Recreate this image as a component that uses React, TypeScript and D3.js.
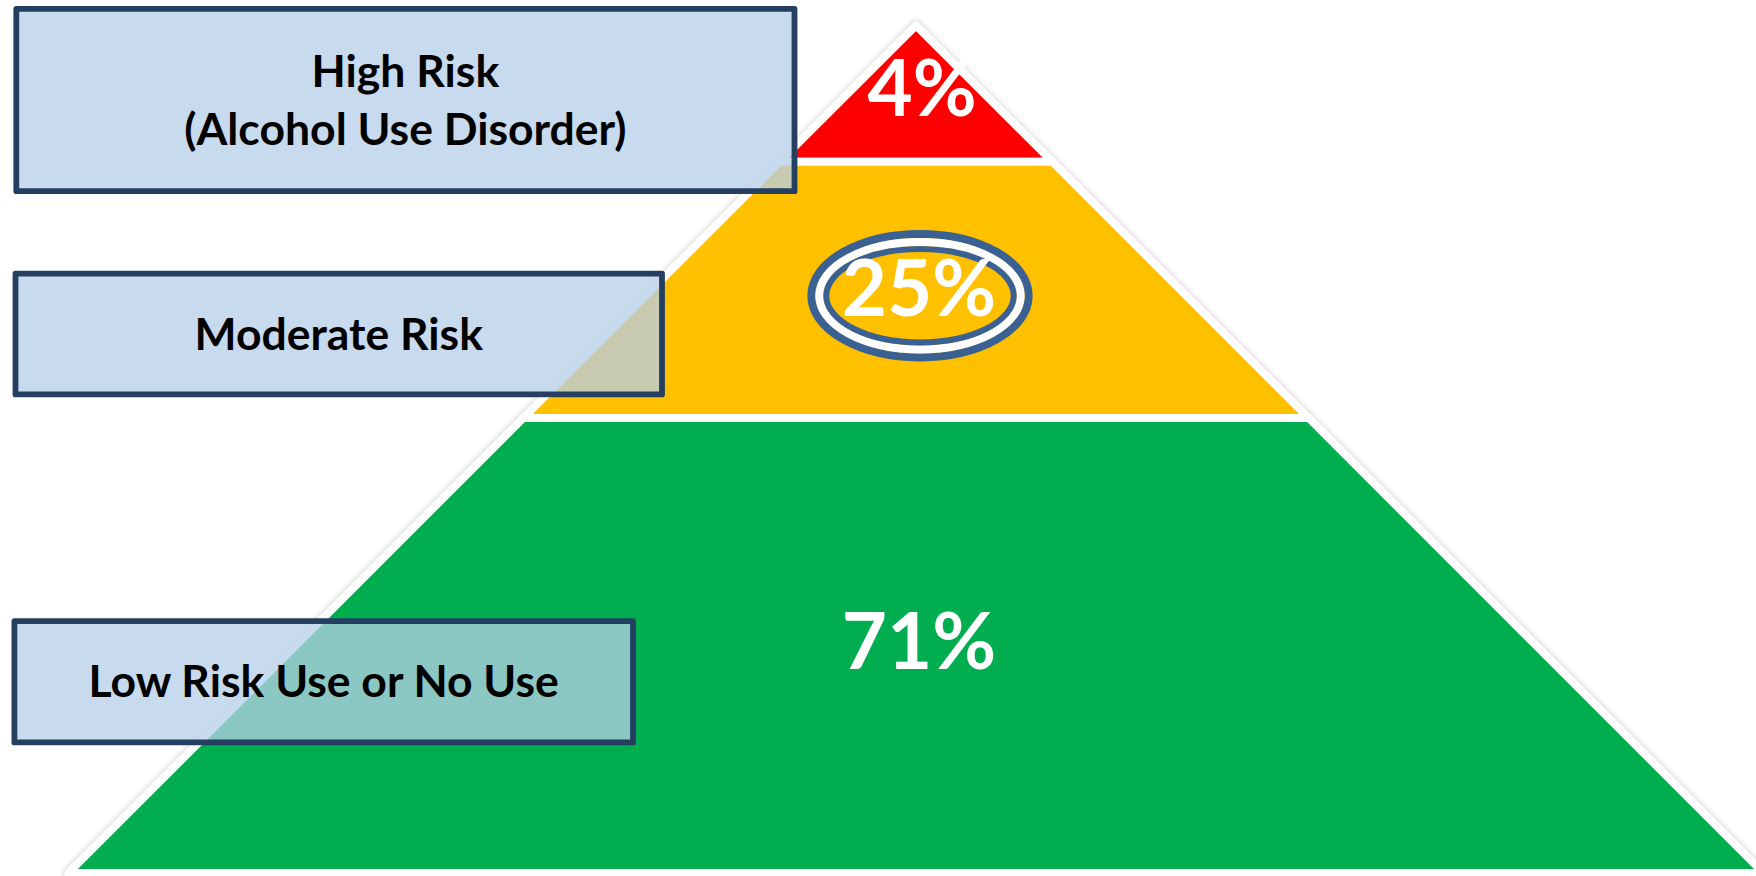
import React from "react";
import * as d3 from "d3";

// ---- data ----
const tierNames = ["High Risk", "Moderate Risk", "Low Risk Use or No Use"];
const tierLabelLines = [["High Risk", "(Alcohol Use Disorder)"], ["Moderate Risk"], ["Low Risk Use or No Use"]];
const tierPercents = [4, 25, 71];

// ---- layout / style ----
const W = 1756;
const H = 876;
const CX = 916;
const TOP_Y = 25.3;
const BASE_Y = 873;
const SEG_BOUNDS = [0, 0.1609, 0.4633, 1];
const SEG_COLORS = ["#FF0000", "#FFC000", "#00AE50"];
const LABEL_BASELINES = [116, 316, 669];
const LABEL_X = [922, 919, 919];
const BOXES = [
  { x0: 16.3, x1: 794.5, y0: 8.9, y1: 191.2 },
  { x0: 15.5, x1: 662, y0: 273.6, y1: 394.4 },
  { x0: 14.4, x1: 633, y0: 621.2, y1: 742.4 },
];
const FONT = "Lato, 'Open Sans', sans-serif";

export default function App() {
  const y = d3.scaleLinear().domain([0, 1]).range([TOP_Y, BASE_Y]);
  const half = d3.scaleLinear().domain([0, 1]).range([0, BASE_Y - TOP_Y]);

  const segPoints = (i: number): [number, number][] => {
    const l0 = SEG_BOUNDS[i];
    const l1 = SEG_BOUNDS[i + 1];
    const pts: [number, number][] = [];
    if (half(l0) < 0.01) pts.push([CX, y(l0)]);
    else pts.push([CX - half(l0), y(l0)], [CX + half(l0), y(l0)]);
    pts.push([CX + half(l1), y(l1)], [CX - half(l1), y(l1)]);
    return pts;
  };
  const line = d3.line().curve(d3.curveLinearClosed);

  return (
    <svg
      width={W}
      height={H}
      viewBox={`0 0 ${W} ${H}`}
      style={{ position: "absolute", left: 0, top: 0, background: "#fff" }}
    >
      <defs>
        <filter id="soft" x="-10%" y="-10%" width="120%" height="120%">
          <feGaussianBlur stdDeviation="1.5" />
        </filter>
      </defs>
      <rect width={W} height={H} fill="#fff" />
      {/* shadows */}
      <g filter="url(#soft)">
        {tierPercents.map((_, i) => (
          <path
            key={"sh" + i}
            d={line(segPoints(i)) as string}
            fill="#e8e8e8"
            stroke="#e8e8e8"
            strokeWidth={13}
            strokeLinejoin="round"
          />
        ))}
      </g>
      {/* segments */}
      {tierPercents.map((_, i) => (
        <path
          key={"seg" + i}
          d={line(segPoints(i)) as string}
          fill={SEG_COLORS[i]}
          stroke="#ffffff"
          strokeWidth={8}
          strokeLinejoin="round"
        />
      ))}
      {/* highlight ellipse for moderate tier */}
      <g fill="none">
        <ellipse cx={920} cy={295.7} rx={108.7} ry={61.7} stroke="#3B6092" strokeWidth={8} />
        <ellipse cx={920} cy={295.7} rx={100.7} ry={53.7} stroke="#ffffff" strokeWidth={8} />
        <ellipse cx={920} cy={295.7} rx={93.7} ry={46.7} stroke="#3B6092" strokeWidth={6} />
      </g>
      {/* percentages */}
      {tierPercents.map((p, i) => (
        <text
          key={"pct" + i}
          x={LABEL_X[i]}
          y={LABEL_BASELINES[i]}
          textAnchor="middle"
          fontFamily={FONT}
          fontWeight={700}
          fontSize={78}
          fill="#ffffff"
        >
          {`${p}%`}
        </text>
      ))}
      {/* label boxes */}
      {tierNames.map((name, i) => {
        const b = BOXES[i];
        const lines = tierLabelLines[i];
        const cy = (b.y0 + b.y1) / 2;
        const lh = 58;
        const firstBaseline = cy + 15.5 - ((lines.length - 1) * lh) / 2;
        return (
          <g key={"box" + i} aria-label={name}>
            <rect
              x={b.x0}
              y={b.y0}
              width={b.x1 - b.x0}
              height={b.y1 - b.y0}
              fill="rgb(183,206,231)"
              fillOpacity={0.76}
              stroke="#243F60"
              strokeWidth={5.8}
              strokeLinejoin="round"
            />
            {lines.map((t, j) => (
              <text
                key={j}
                x={(b.x0 + b.x1) / 2}
                y={firstBaseline + j * lh}
                textAnchor="middle"
                fontFamily={FONT}
                fontWeight={700}
                fontSize={44.5}
                fill="#000"
              >
                {t}
              </text>
            ))}
          </g>
        );
      })}
    </svg>
  );
}
